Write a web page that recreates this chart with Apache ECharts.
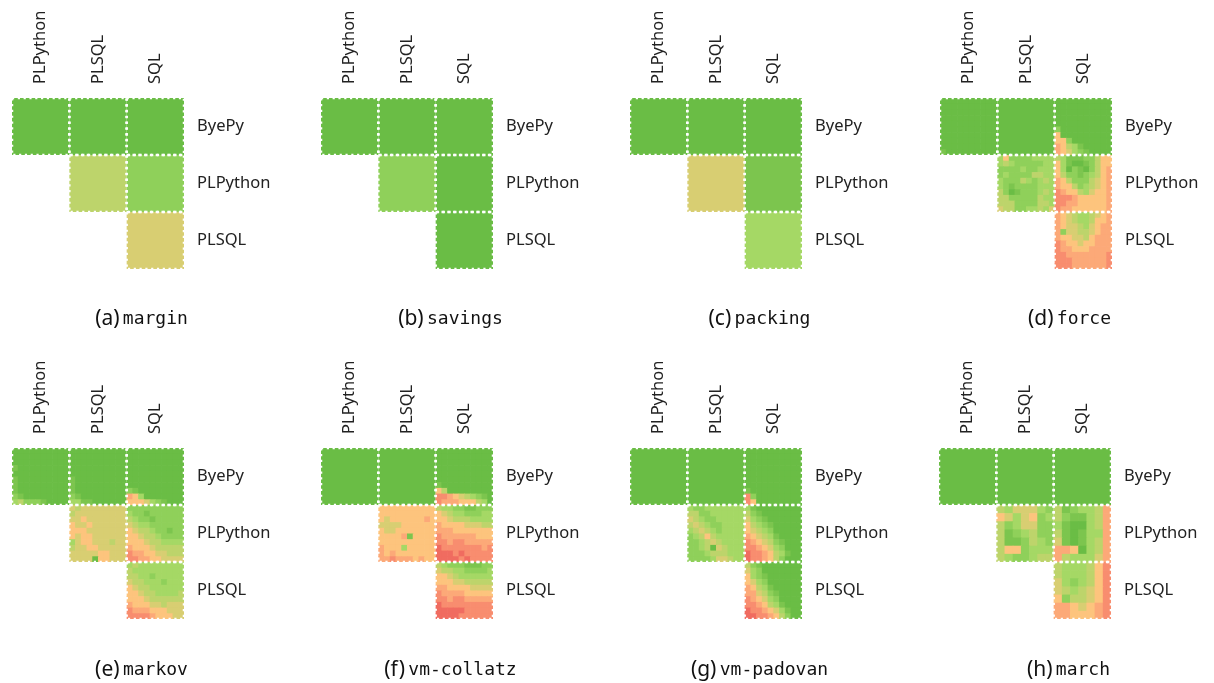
<!DOCTYPE html>
<html><head><meta charset="utf-8">
<script src="https://cdn.jsdelivr.net/npm/echarts@6/dist/echarts.min.js"></script>
<style>html,body{margin:0;padding:0;background:#fff}#c{width:1214px;height:683px}</style>
</head><body><div id="c"></div>
<script>
// ---- categories / labels ----
const xCategories = ['PLPython', 'PLSQL', 'SQL'];
const yCategories = ['ByePy', 'PLPython', 'PLSQL'];
const panelTags = ['(a)', '(b)', '(c)', '(d)', '(e)', '(f)', '(g)', '(h)'];
const panelNames = ['margin', 'savings', 'packing', 'force', 'markov', 'vm-collatz', 'vm-padovan', 'march'];
// cells present in each panel, as [column index, row index]
const cellIndex = [[0, 0], [1, 0], [2, 0], [1, 1], [2, 1], [2, 2]];
// colour levels 0 (green, fast) .. 9 (red, slow)
const levelColors = ['#6abd45', '#7cc54e', '#8fd05a', '#a5d865', '#bdd46b', '#d8ce72', '#fdc47d', '#fca978', '#f88d6f', '#f06c60'];

// ---- per-panel cell values (one digit = one level; single string = uniform cell) ----
const margin = [['0'], ['0'], ['0'], ['4'], ['2'], ['5']];
const savings = [['0'], ['0'], ['0'], ['2'], ['0'], ['0']];
const packing = [['0'], ['0'], ['0'], ['5'], ['1'], ['3']];
const force = [
  ['0000000000','0000000000','0000000000','0000000000','0000000000','0000000000','0000000000','0000000000','0000000000','1000000000'],
  ['0'],
  ['0000000000','0000000000','0000000000','0000000000','0000000000','2000000000','6000000000','6620000000','7643100000','7653210000'],
  ['3622223333','3432222233','2222322333','2322224433','3222432343','3212222333','4201222343','4422222433','4442222443','5442233435'],
  ['4311122466','6310012466','6302102467','6422123467','7642224567','7664234567','8766435667','8887666667','8877666667','8776666667'],
  ['7654334567','7654334667','7655435677','7255445677','7665546777','8766566777','8776667777','8877777778','8887777778','8887777778']
];
const markov = [
  ['0000000000','0000000000','0000000000','1000000000','0000000000','1000000000','1000000000','1000000000','2100000000','3422210000'],
  ['0000000000','0000000000','0000000000','0000000000','0000000000','1000000000','1000000000','1000000000','2100000000','3311000000'],
  ['0000000000','0000000000','0000000000','0000000000','0000000000','0000000000','0000000000','2100000000','7630000000','6665321000'],
  ['5455555555','4555555555','5565555555','6556555555','6665555555','6566555555','3566555455','4556655555','5555566555','5555066555'],
  ['2222222222','3221222222','4322122222','5433222222','6544322122','6654432222','6665443333','7666544444','8776655444','8877665555'],
  ['3433333333','4333333333','4433233333','5443332333','6544333333','6654433334','6665444444','7666554555','8777666555','8888766655']
];
const vmCollatz = [
  ['0'],
  ['0'],
  ['0000000000','0000000000','0000000000','0000000000','0000000000','0000000000','1000000000','6400000000','8876543210','8777666430'],
  ['6666666666','6666666666','6566666676','5555666666','6556666666','6666716666','6666666666','7666366666','7676666666','7787776766'],
  ['4332211222','6543322233','6654443333','7666655544','7776666666','8777777666','8878877777','9888888878','9998988888','9999898888'],
  ['4322211122','5443322223','6654333333','6665544444','7766665555','8777766666','8878877777','9888888888','9999988888','9999888888']
];
const vmPadovan = [
  ['0'],
  ['0'],
  ['0000000000','0000000000','0000000000','0000000000','0000000000','0000000000','0000000000','1000000000','8200000000','8600000000'],
  ['3223333333','4422333333','5432233333','4543223333','3454323333','2346433333','2234543333','2234054333','2223444333','2222355433'],
  ['3100000000','4210000000','5321000000','6432100000','6543200000','7654310000','8765421000','8876532000','9887643100','9887642000'],
  ['4210000000','5320000000','6321000000','6532000000','7643100000','7754210000','8765320000','8876431000','9887653100','9988764200']
];
const march = [
  ['0'],
  ['0'],
  ['0'],
  ['4355532','6535623','4235522','4123422','4112432','4662333','4322344'],
  ['4123347','4211347','3100347','4101337','5101347','7760347','7433357'],
  ['4333468','4333468','5323468','5434568','6244568','7765678','7766678']
];
const panels = [margin, savings, packing, force, markov, vmCollatz, vmPadovan, march];

// ---- layout ----
const panelLeft = [12, 321, 630, 940, 12, 321, 630, 939];
const panelTop = [98, 98, 98, 98, 448, 448, 448, 448];
const panelW = 172, panelH = 171;
const captionDX = 129.5;
const captionY = [319, 319, 319, 319, 670, 670, 670, 670];

const LABEL_FONT = '"Noto Sans", "Open Sans", sans-serif';

const grids = [], xAxes = [], yAxes = [], series = [], graphics = [];
panels.forEach(function (cells, p) {
  grids.push({ left: panelLeft[p], top: panelTop[p], width: panelW, height: panelH });
  xAxes.push({
    gridIndex: p, type: 'category', data: xCategories, position: 'top',
    axisLine: { show: false },
    axisTick: { alignWithLabel: true, length: 7, lineStyle: { color: '#111', width: 1.5 } },
    axisLabel: { rotate: -90, margin: 14, fontSize: 16.5, fontFamily: LABEL_FONT, color: '#222' },
    splitLine: { show: false }
  });
  yAxes.push({
    gridIndex: p, type: 'category', data: yCategories, position: 'right', inverse: true,
    axisLine: { show: false },
    axisTick: { alignWithLabel: true, length: 6, lineStyle: { color: '#111', width: 1.5 } },
    axisLabel: { margin: 13, fontSize: 16.5, fontFamily: LABEL_FONT, color: '#222' },
    splitLine: { show: false }
  });
  const data = [];
  cells.forEach(function (rows, k) {
    const col = cellIndex[k][0], row = cellIndex[k][1];
    const n = rows.length;
    rows.forEach(function (line, r) {
      for (let c = 0; c < line.length; c++) {
        data.push([col, row, c, r, n, +line[c]]);
      }
    });
  });
  series.push({
    type: 'custom', xAxisIndex: p, yAxisIndex: p, data: data, silent: true,
    encode: { x: 0, y: 1 },
    renderItem: function (params, api) {
      const ctr = api.coord([api.value(0), api.value(1)]);
      const sz = api.size([1, 1]);
      const n = api.value(4);
      const w = sz[0] / n, h = sz[1] / n;
      const x0 = ctr[0] - sz[0] / 2 + api.value(2) * w;
      const y0 = ctr[1] - sz[1] / 2 + api.value(3) * h;
      const last = api.value(2) === n - 1, lastR = api.value(3) === n - 1;
      const color = levelColors[api.value(5)];
      return { type: 'rect',
        shape: { x: x0, y: y0, width: w + (last ? 0 : 0.7), height: h + (lastR ? 0 : 0.7) },
        style: { fill: color } };
    }
  });
  series.push({
    type: 'custom', xAxisIndex: p, yAxisIndex: p, data: cellIndex, silent: true, z: 5,
    encode: { x: 0, y: 1 },
    renderItem: function (params, api) {
      const ctr = api.coord([api.value(0), api.value(1)]);
      const sz = api.size([1, 1]);
      return { type: 'rect', shape: { x: ctr[0] - sz[0] / 2, y: ctr[1] - sz[1] / 2, width: sz[0], height: sz[1] },
        style: { fill: null, stroke: '#ffffff', lineWidth: 2.5, lineDash: [2.2, 3.6], lineCap: 'butt' } };
    }
  });
  graphics.push({
    type: 'text', x: panelLeft[p] + captionDX, y: captionY[p],
    style: {
      text: '{s|' + panelTags[p] + '} {m|' + panelNames[p] + '}',
      textAlign: 'center', textVerticalAlign: 'middle',
      rich: {
        s: { fontFamily: LABEL_FONT, fontSize: 21, fill: '#111' },
        m: { fontFamily: '"DejaVu Sans Mono", monospace', fontSize: 18, fill: '#111' }
      }
    }
  });
});

const chart = echarts.init(document.getElementById('c'), null, { renderer: 'canvas' });
chart.setOption({
  animation: false,
  backgroundColor: '#ffffff',
  grid: grids, xAxis: xAxes, yAxis: yAxes, series: series, graphic: graphics
});
</script>
</body></html>
